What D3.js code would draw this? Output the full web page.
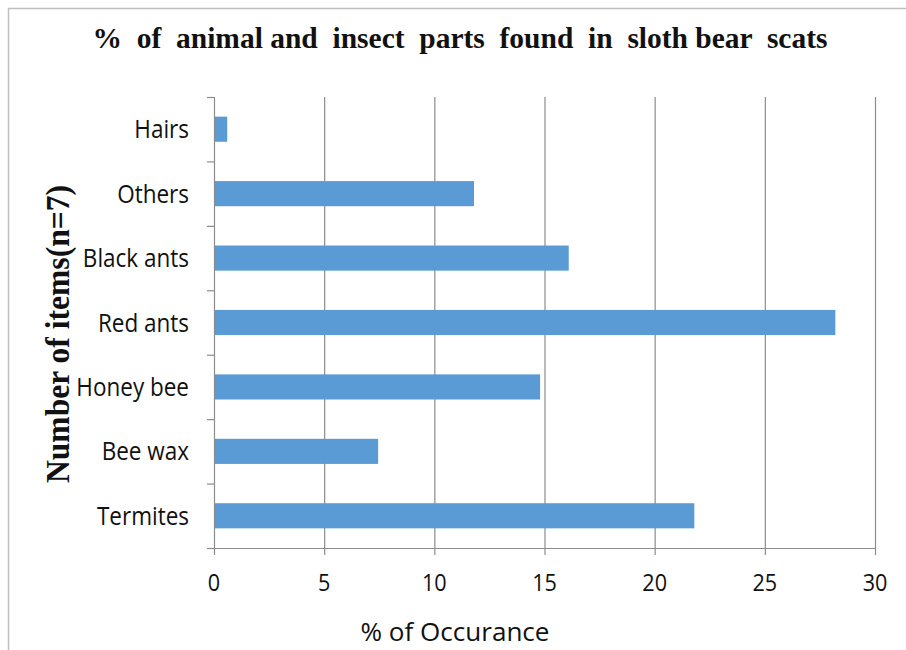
<!DOCTYPE html>
<html><head><meta charset="utf-8">
<script src="https://cdn.jsdelivr.net/npm/d3@7"></script>
<style>body{margin:0;background:#fff}</style>
</head><body>
<svg id="c" width="906" height="650"></svg>
<script>
const categories = ["Hairs","Others","Black ants","Red ants","Honey bee","Bee wax","Termites"];
const values = [0.6, 11.8, 16.1, 28.2, 14.8, 7.45, 21.8];
const xTicks = [0,5,10,15,20,25,30];

const svg = d3.select("#c");
const L = 214, R = 875, T = 97, B = 548;
const x = d3.scaleLinear().domain([0,30]).range([L,R]);
const y = d3.scaleBand().domain(categories).range([T,B]).paddingInner(0.61).paddingOuter(0.305);
const yb = d3.scaleBand().domain(categories).range([T,B]);

// frame
svg.append("path").attr("d","M8.5,650 V8.5 H906").attr("fill","none").attr("stroke","#bfbfbf").attr("stroke-width",1.5);

// gridlines
svg.append("g").selectAll("line").data(xTicks.slice(1)).join("line")
  .attr("x1",d=>x(d)+0.5).attr("x2",d=>x(d)+0.5).attr("y1",T).attr("y2",B+7)
  .attr("stroke","#8c8c8c").attr("stroke-width",1.2);

// bars
svg.append("g").selectAll("rect").data(categories).join("rect")
  .attr("x",x(0)).attr("y",d=>y(d)).attr("height",y.bandwidth())
  .attr("width",(d,i)=>x(values[i])-x(0)).attr("fill","#5b9bd5");

// y axis
svg.append("line").attr("x1",L+0.5).attr("x2",L+0.5).attr("y1",T).attr("y2",B+7).attr("stroke","#8c8c8c").attr("stroke-width",1.2);
const yTickPos = categories.map(c=>yb(c)).concat([B]);
svg.append("g").selectAll("line").data(yTickPos).join("line")
  .attr("x1",L-7).attr("x2",L).attr("y1",d=>d+0.5).attr("y2",d=>d+0.5)
  .attr("stroke","#8c8c8c").attr("stroke-width",1.2);
// x axis
svg.append("line").attr("x1",L-7).attr("x2",R+1).attr("y1",B+0.5).attr("y2",B+0.5).attr("stroke","#8c8c8c").attr("stroke-width",1.2);

const sans = "'Open Sans', 'Noto Sans', sans-serif";
svg.append("g").selectAll("text").data(categories).join("text")
  .attr("transform",d=>`translate(189,${yb(d)+yb.bandwidth()/2}) scale(0.9,1)`).attr("dy","0.36em")
  .attr("text-anchor","end").attr("font-family",sans).attr("font-size",25).attr("fill","#111")
  .text(d=>d);

svg.append("g").selectAll("text").data(xTicks).join("text")
  .attr("transform",d=>`translate(${x(d)},591) scale(0.9,1)`).attr("text-anchor","middle")
  .attr("font-family",sans).attr("font-size",24).attr("fill","#111").text(d=>d);

svg.append("text").attr("x",455).attr("y",641).attr("text-anchor","middle")
  .attr("font-family",sans).attr("font-size",25).attr("fill","#111")
  .attr("textLength",189).attr("lengthAdjust","spacingAndGlyphs")
  .text("%  of Occurance");

svg.append("text").attr("x",460).attr("y",48).attr("text-anchor","middle")
  .attr("font-family","'Liberation Serif','DejaVu Serif',serif").attr("font-weight","bold").attr("font-size",30).attr("fill","#111")
  .attr("textLength",735).attr("lengthAdjust","spacingAndGlyphs")
  .attr("xml:space","preserve")
  .text("%  of  animal and  insect  parts  found  in  sloth bear  scats");

svg.append("text").attr("transform","translate(69,334) rotate(-90)").attr("text-anchor","middle")
  .attr("font-family","'Liberation Serif','DejaVu Serif',serif").attr("font-weight","bold").attr("font-size",33).attr("fill","#111")
  .attr("textLength",298).attr("lengthAdjust","spacingAndGlyphs")
  .text("Number of items(n=7)");
</script>
</body></html>
